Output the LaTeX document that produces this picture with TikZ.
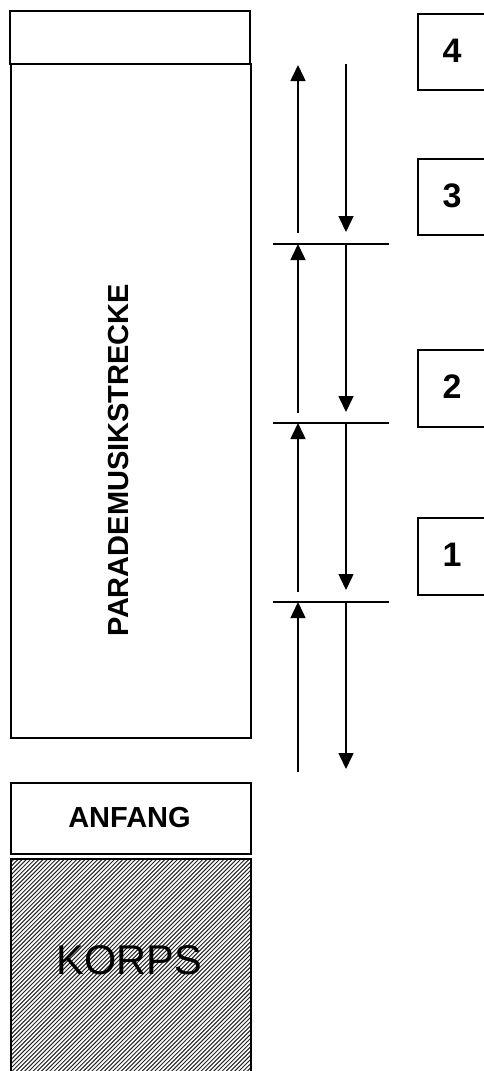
\documentclass[tikz,border=0pt]{standalone}
\usepackage{fontspec}
\setmainfont{Liberation Sans}
\usetikzlibrary{arrows.meta}
\begin{document}
\begin{tikzpicture}[x=1pt,y=-1pt,
  frame/.style={draw=black,line width=1.7pt,inner sep=0pt,anchor=north west},
  arr/.style={line width=1.5pt,-{Triangle[width=15pt,length=16pt]}},
  tickline/.style={line width=1.5pt},
  digit/.style={font=\fontsize{34}{40}\selectfont\bfseries,inner sep=0pt},
  bigbold/.style={font=\fontsize{29}{34}\selectfont\bfseries,inner sep=0pt},
]
\useasboundingbox (0,0) rectangle (484,1071);
\clip (0,0) rectangle (484,1071);
\fill[white] (0,0) rectangle (484,1071);

% left column
\node[frame,minimum width=240pt,minimum height=53pt] (topbox) at (9,10) {};
\node[frame,minimum width=240pt,minimum height=674pt] (strecke) at (10,63) {};
\node[bigbold,rotate=90] (streckelabel) at (119,460) {PARADEMUSIKSTRECKE};

\node[frame,minimum width=240pt,minimum height=71pt] (anfang) at (10,782) {};
\node[bigbold] (anfanglabel) at (129.5,818) {ANFANG};

\begin{scope}
  \clip (10,858) rectangle (250,1080);
  \foreach \k in {0,...,112}
    \draw[line width=1.0pt,black!85] ({-232+\k*4.2},1080) -- ++(232,-232);
\end{scope}
\node[frame,minimum width=240pt,minimum height=222pt] (korps) at (10,858) {};
\node[font=\fontsize{41.5}{48}\selectfont,inner sep=0pt] (korpslabel) at (129.5,960) {KORPS};

% numbered boxes
\node[frame,minimum width=80pt,minimum height=76pt] (b4) at (417,13) {};
\node[digit] (d4) at (452,51) {4};
\node[frame,minimum width=80pt,minimum height=76pt] (b3) at (417,158) {};
\node[digit] (d3) at (452,196) {3};
\node[frame,minimum width=80pt,minimum height=77pt] (b2) at (417,349) {};
\node[digit] (d2) at (452,387) {2};
\node[frame,minimum width=80pt,minimum height=77pt] (b1) at (417,517) {};
\node[digit] (d1) at (452,555) {1};

% tick lines
\foreach \n/\y in {A/244,B/423,C/602}{
  \coordinate (t\n l) at (273,\y);
  \coordinate (t\n r) at (389,\y);
  \draw[tickline] (t\n l) -- (t\n r);
}

% arrow end points
\foreach \n/\ua/\ub/\da/\db in {1/233/65/64/232, 2/413/244/244/412, 3/592/423/423/590, 4/772/602/602/769}{
  \coordinate (us\n) at (298,\ua);
  \coordinate (ue\n) at (298,\ub);
  \coordinate (ds\n) at (346,\da);
  \coordinate (de\n) at (346,\db);
  \draw[arr] (us\n) -- (ue\n);
  \draw[arr] (ds\n) -- (de\n);
}
\end{tikzpicture}
\end{document}
